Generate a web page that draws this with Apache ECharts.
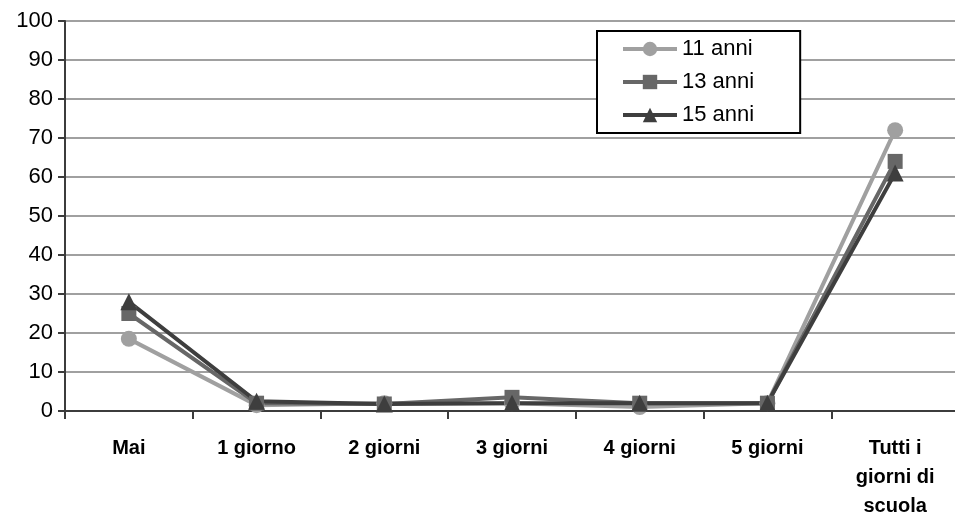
<!DOCTYPE html>
<html>
    <head>
        <meta charset="utf-8">
        <title>Frequenza</title>
        <script src="https://cdn.jsdelivr.net/npm/echarts@6/dist/echarts.min.js"></script>
    </head>
    <body style="margin:0;background:#fff">

        <div id="main" style="width: 955px;height: 512px;"></div>

        <script type="text/javascript">
            // dati
            var categorie = ['Mai', '1 giorno', '2 giorni', '3 giorni', '4 giorni', '5 giorni', 'Tutti i\ngiorni di\nscuola'];
            var anni11 = [18.5, 1.5, 2, 2, 1, 2, 72];
            var anni13 = [25, 2, 1.8, 3.5, 2, 2, 64];
            var anni15 = [28, 2.5, 1.8, 2, 2, 2, 61];
            var yTicks = [0, 100, 10];

            var mChart = echarts.init(document.getElementById('main'));

            var font = 'Liberation Sans, Arial, sans-serif';

            function serie(nome, dati, colore, simbolo, size) {
                return {
                    name: nome,
                    type: 'line',
                    data: dati,
                    symbol: simbolo,
                    symbolSize: size,
                    showAllSymbol: true,
                    lineStyle: { color: colore, width: 4 },
                    itemStyle: { color: colore },
                    emphasis: { disabled: true }
                };
            }

            var option = {
                animation: false,
                grid: { left: 65, right: -4, top: 21, bottom: 101, containLabel: false, outerBoundsMode: 'none' },
                legend: {
                    orient: 'vertical',
                    left: 597,
                    top: 31,
                    padding: [7, 46, 7, 24],
                    borderColor: '#000',
                    borderWidth: 2,
                    backgroundColor: '#fff',
                    itemWidth: 54,
                    itemHeight: 18,
                    itemGap: 11,
                    lineStyle: { width: 4 },
                    textStyle: { fontFamily: font, fontSize: 22, color: '#000' },
                    data: ['11 anni', '13 anni', '15 anni']
                },
                xAxis: {
                    type: 'category',
                    data: categorie,
                    boundaryGap: true,
                    axisLine: { lineStyle: { color: '#3c3c3c', width: 2 } },
                    axisTick: { show: true, length: 8, interval: 0, lineStyle: { color: '#3c3c3c', width: 2 } },
                    axisLabel: {
                        interval: 0,
                        margin: 23,
                        fontFamily: font,
                        fontSize: 20,
                        fontWeight: 'bold',
                        color: '#000',
                        lineHeight: 29
                    }
                },
                yAxis: {
                    type: 'value',
                    min: yTicks[0],
                    max: yTicks[1],
                    interval: yTicks[2],
                    axisLine: { show: true, lineStyle: { color: '#3c3c3c', width: 2 } },
                    axisTick: { show: true, length: 7, lineStyle: { color: '#3c3c3c', width: 2 } },
                    axisLabel: { margin: 12, fontFamily: font, fontSize: 22, color: '#000' },
                    splitLine: { lineStyle: { color: '#a0a0a0', width: 2 } }
                },
                series: [
                    serie('11 anni', anni11, '#a0a0a0', 'circle', 16),
                    serie('13 anni', anni13, '#676767', 'rect', 15),
                    serie('15 anni', anni15, '#3e3e3e', 'triangle', 17)
                ]
            };

            mChart.setOption(option);
        </script>
    </body>
</html>
